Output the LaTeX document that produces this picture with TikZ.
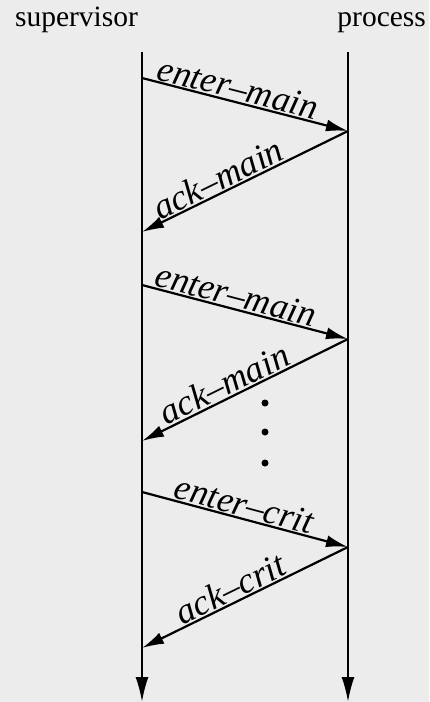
\documentclass[tikz,border=0pt]{standalone}
\usepackage{fontspec}
\setmainfont{Liberation Serif}
\usetikzlibrary{arrows.meta}
\definecolor{bg}{RGB}{236,236,236}
\begin{document}
\begin{tikzpicture}[x=1pt,y=-1pt, line width=2.2pt,
  msg/.style={-{Latex[length=22pt,width=12pt]}},
  life/.style={-{Latex[length=25pt,width=13pt]}},
  lbl/.style={sloped, above, inner sep=1pt, font=\fontsize{36}{40}\selectfont\itshape},
  hdr/.style={font=\fontsize{29.5}{34}\selectfont, inner sep=0pt},
  dot/.style={circle, fill=black, inner sep=0pt, minimum size=7pt}]
\fill[bg] (0,0) rectangle (429,702);
\useasboundingbox (0,0) rectangle (429,702);
\node[hdr, anchor=base west] (sup) at (14,26) {supervisor};
\node[hdr, anchor=base east] (proc) at (427,26) {process};
\coordinate (Ltop) at (142,52); \coordinate (Lbot) at (142,702);
\coordinate (Rtop) at (348,52); \coordinate (Rbot) at (348,702);
\draw[life] (Ltop) -- (Lbot);
\draw[life] (Rtop) -- (Rbot);
\coordinate (L1) at (142,78);  \coordinate (R1) at (348,131);
\coordinate (L2) at (142,232);
\coordinate (L3) at (142,285); \coordinate (R3) at (348,339);
\coordinate (L4) at (142,441);
\coordinate (L5) at (142,492); \coordinate (R5) at (348,547);
\coordinate (L6) at (142,648);
\draw[msg] (L1) -- node[lbl, pos=0.45] {enter–main} (R1);
\draw[msg] (R1) -- node[lbl, pos=0.6] {ack–main} (L2);
\draw[msg] (L3) -- node[lbl, pos=0.44] {enter–main} (R3);
\draw[msg] (R3) -- node[lbl, pos=0.57] {ack–main} (L4);
\draw[msg] (L5) -- node[lbl, pos=0.48] {enter–crit} (R5);
\draw[msg] (R5) -- node[lbl, pos=0.54] {ack–crit} (L6);
\node[dot] (d1) at (265,403) {};
\node[dot] (d2) at (265,432) {};
\node[dot] (d3) at (265,463) {};
\end{tikzpicture}
\end{document}
